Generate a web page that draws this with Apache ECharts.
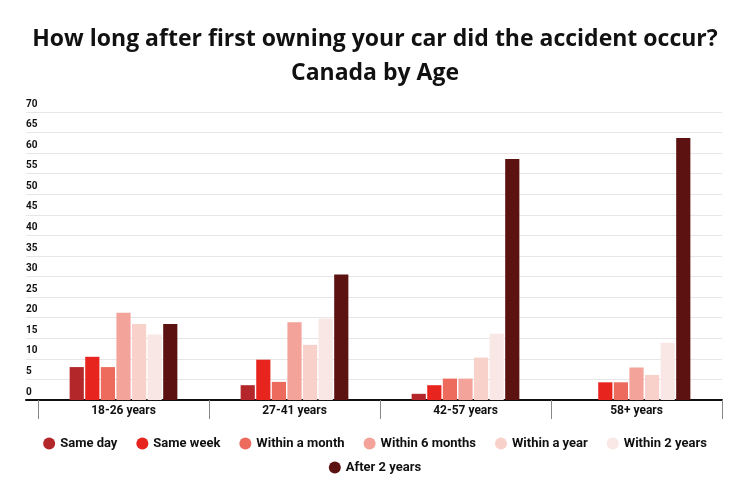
<!DOCTYPE html>
<html>
<head>
<meta charset="utf-8">
<script src="https://cdn.jsdelivr.net/npm/echarts@6/dist/echarts.min.js"></script>
<style>html,body{margin:0;padding:0;background:#fff;}#c{width:750px;height:502px;}</style>
</head>
<body>
<div id="c"></div>
<script>
const categories = ['18-26 years', '27-41 years', '42-57 years', '58+ years'];
const seriesNames = ['Same day', 'Same week', 'Within a month', 'Within 6 months', 'Within a year', 'Within 2 years', 'After 2 years'];
const sameDay = [8.0, 3.6, 1.5, 0];
const sameWeek = [10.5, 9.8, 3.6, 4.3];
const withinMonth = [8.0, 4.4, 5.2, 4.3];
const within6Months = [21.2, 18.9, 5.2, 7.9];
const withinYear = [18.5, 13.4, 10.3, 6.1];
const within2Years = [15.9, 19.8, 16.1, 13.9];
const after2Years = [18.5, 30.5, 58.6, 63.7];
const yTicks = [0, 5, 10, 15, 20, 25, 30, 35, 40, 45, 50, 55, 60, 65, 70];

const values = [sameDay, sameWeek, withinMonth, within6Months, withinYear, within2Years, after2Years];
const colors = ['#b3262a', '#e8241f', '#ec6b5d', '#f3a39a', '#f8d1cb', '#f9e7e5', '#5c1210'];

const chart = echarts.init(document.getElementById('c'));
const smallFont = 'Roboto, sans-serif';
const legendCommon = {
  icon: 'circle',
  itemWidth: 12,
  itemHeight: 12,
  itemGap: 19,
  textStyle: { fontFamily: smallFont, fontWeight: 'bold', fontSize: 13, color: '#111' }
};
chart.setOption({
  backgroundColor: '#fff',
  animation: false,
  title: {
    text: 'How long after first owning your car did the accident occur?\nCanada by Age',
    left: 'center',
    top: 17,
    textStyle: { fontFamily: '"Open Sans", sans-serif', fontWeight: 'bold', fontSize: 23, lineHeight: 34, color: '#111' }
  },
  legend: [
    Object.assign({ data: seriesNames.slice(0, 6), top: 432, left: 'center' }, legendCommon),
    Object.assign({ data: seriesNames.slice(6), top: 456, left: 'center' }, legendCommon)
  ],
  grid: [
    { left: 26, right: 28, top: 112, bottom: 502 - 400 },
    { left: 38, right: 28, top: 112, bottom: 502 - 400 }
  ],
  xAxis: [
    { gridIndex: 0, type: 'value', min: 0, max: 1, show: true,
      axisLine: { show: true, lineStyle: { color: '#111', width: 2 } },
      axisTick: { show: false }, axisLabel: { show: false }, splitLine: { show: false } },
    { gridIndex: 1, type: 'category', data: categories,
      axisLine: { show: false },
      axisTick: { show: true, length: 19, lineStyle: { color: '#888', width: 1 } },
      axisLabel: { fontFamily: smallFont, fontWeight: 'bold', fontSize: 12, color: '#111', margin: 5 },
      splitLine: { show: false } }
  ],
  yAxis: [
    { gridIndex: 0, type: 'value', min: 0, max: 70, interval: 5,
      axisLine: { show: false }, axisTick: { show: false },
      axisLabel: { inside: true, margin: 0, verticalAlign: 'bottom', padding: [0, 0, 3, 0],
        fontFamily: smallFont, fontWeight: 'bold', fontSize: 10, color: '#111',
        formatter: v => yTicks.indexOf(v) >= 0 ? String(v) : '' },
      splitLine: { show: true, lineStyle: { color: '#e6e6e6', width: 1 } } },
    { gridIndex: 1, type: 'value', min: 0, max: 70, interval: 5, show: false }
  ],
  series: seriesNames.map((name, i) => ({
    name: name,
    type: 'bar',
    xAxisIndex: 1,
    yAxisIndex: 1,
    data: values[i],
    barGap: '10%',
    barCategoryGap: '37%',
    itemStyle: { color: colors[i] }
  }))
});
</script>
</body>
</html>
